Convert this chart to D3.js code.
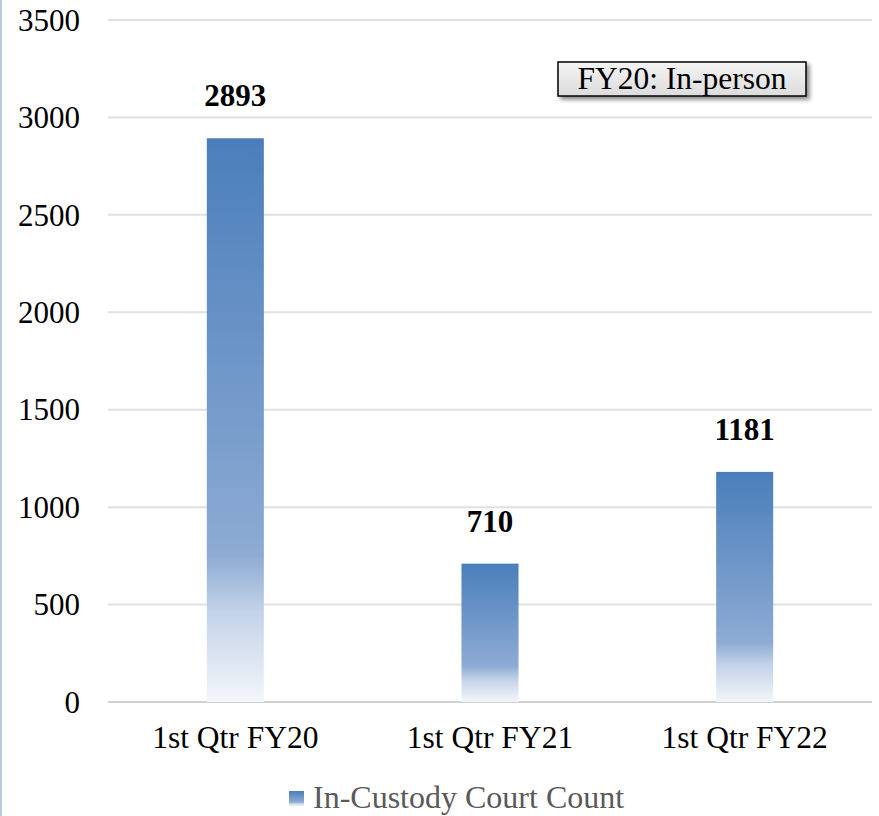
<!DOCTYPE html>
<html>
<head>
<meta charset="utf-8">
<script src="https://cdn.jsdelivr.net/npm/d3@7"></script>
<style>
  html, body { margin: 0; padding: 0; background: #fff; }
  svg { display: block; }
  svg text { font-family: "Liberation Serif", "Times New Roman", serif; }
</style>
</head>
<body>
<div id="chart"></div>
<script>
var categories = ["1st Qtr FY20", "1st Qtr FY21", "1st Qtr FY22"];
var counts = [2893, 710, 1181];
var yTicks = [0, 500, 1000, 1500, 2000, 2500, 3000, 3500];
var seriesName = "In-Custody Court Count";
var noteText = "FY20: In-person";

var width = 879, height = 816;
var margin = { top: 20, right: 7, bottom: 114, left: 108 };
var fontSize = 31.5;

var svg = d3.select("#chart").append("svg")
  .attr("width", width)
  .attr("height", height);

var defs = svg.append("defs");

// bar fill: blue at top fading to near white at the base
var grad = defs.append("linearGradient")
  .attr("id", "barGrad")
  .attr("x1", 0).attr("y1", 0).attr("x2", 0).attr("y2", 1);
grad.append("stop").attr("offset", "0%").attr("stop-color", "#4a7ebb");
grad.append("stop").attr("offset", "74%").attr("stop-color", "#8dabd3");
grad.append("stop").attr("offset", "84%").attr("stop-color", "#c3d3e8");
grad.append("stop").attr("offset", "100%").attr("stop-color", "#f3f6fa");

var boxGrad = defs.append("linearGradient")
  .attr("id", "boxGrad")
  .attr("x1", 0).attr("y1", 0).attr("x2", 0).attr("y2", 1);
boxGrad.append("stop").attr("offset", "0%").attr("stop-color", "#f4f4f4");
boxGrad.append("stop").attr("offset", "100%").attr("stop-color", "#dcdcdc");

var shadow = defs.append("filter").attr("id", "shadow")
  .attr("x", "-10%").attr("y", "-30%").attr("width", "130%").attr("height", "180%");
shadow.append("feDropShadow")
  .attr("dx", 3).attr("dy", 3).attr("stdDeviation", 2)
  .attr("flood-color", "#000").attr("flood-opacity", 0.45);

// thin border on the left edge
svg.append("rect")
  .attr("x", 0).attr("y", 0)
  .attr("width", 2).attr("height", height)
  .attr("fill", "#b9cbe4");

var x = d3.scaleBand()
  .domain(categories)
  .range([margin.left, width - margin.right])
  .paddingInner(0.776)
  .paddingOuter(0.388);

var y = d3.scaleLinear()
  .domain([0, 3500])
  .range([height - margin.bottom, margin.top]);

// gridlines
svg.append("g")
  .selectAll("line")
  .data(yTicks)
  .enter().append("line")
  .attr("x1", margin.left)
  .attr("x2", width - margin.right)
  .attr("y1", function(d) { return y(d); })
  .attr("y2", function(d) { return y(d); })
  .attr("stroke", function(d) { return d === 0 ? "#d0d0d0" : "#e0e0e0"; })
  .attr("stroke-width", 2);

// y axis labels
var yAxis = d3.axisLeft(y).tickValues(yTicks).tickFormat(d3.format("d")).tickSize(0).tickPadding(0);
var yg = svg.append("g")
  .attr("transform", "translate(80,0)")
  .call(yAxis)
  .attr("font-family", null)
  .attr("font-size", 31);
yg.select(".domain").remove();
yg.selectAll("text")
  .attr("fill", "#000")
  .attr("dy", "0.33em");

// bars
svg.append("g")
  .selectAll("rect")
  .data(counts)
  .enter().append("rect")
  .attr("x", function(d, i) { return x(categories[i]); })
  .attr("y", function(d) { return y(d); })
  .attr("width", x.bandwidth())
  .attr("height", function(d) { return y(0) - y(d); })
  .attr("fill", "url(#barGrad)");

// value labels
svg.append("g")
  .selectAll("text")
  .data(counts)
  .enter().append("text")
  .attr("x", function(d, i) { return x(categories[i]) + x.bandwidth() / 2; })
  .attr("y", function(d) { return y(d) - 32; })
  .attr("text-anchor", "middle")
  .attr("font-size", 31)
  .attr("font-weight", "bold")
  .attr("fill", "#000")
  .text(function(d) { return d; });

// x axis labels
var xAxis = d3.axisBottom(x).tickSize(0).tickPadding(0);
var xg = svg.append("g")
  .attr("transform", "translate(0," + (y(0) + 24) + ")")
  .call(xAxis)
  .attr("font-family", null)
  .attr("font-size", fontSize);
xg.select(".domain").remove();
xg.selectAll("text")
  .attr("fill", "#000");

// legend
var legend = svg.append("g").attr("transform", "translate(289,791)");
legend.append("rect")
  .attr("width", 15).attr("height", 15)
  .attr("fill", "url(#barGrad)");
legend.append("text")
  .attr("x", 24).attr("y", 17)
  .attr("font-size", 32)
  .attr("fill", "#595959")
  .text(seriesName);

// note box
var note = svg.append("g").attr("transform", "translate(558,62)");
note.append("rect")
  .attr("width", 248).attr("height", 34)
  .attr("fill", "url(#boxGrad)")
  .attr("stroke", "#000")
  .attr("stroke-width", 1.5)
  .attr("filter", "url(#shadow)");
note.append("text")
  .attr("x", 124).attr("y", 27)
  .attr("text-anchor", "middle")
  .attr("font-size", fontSize)
  .attr("fill", "#000")
  .text(noteText);
</script>
</body>
</html>
